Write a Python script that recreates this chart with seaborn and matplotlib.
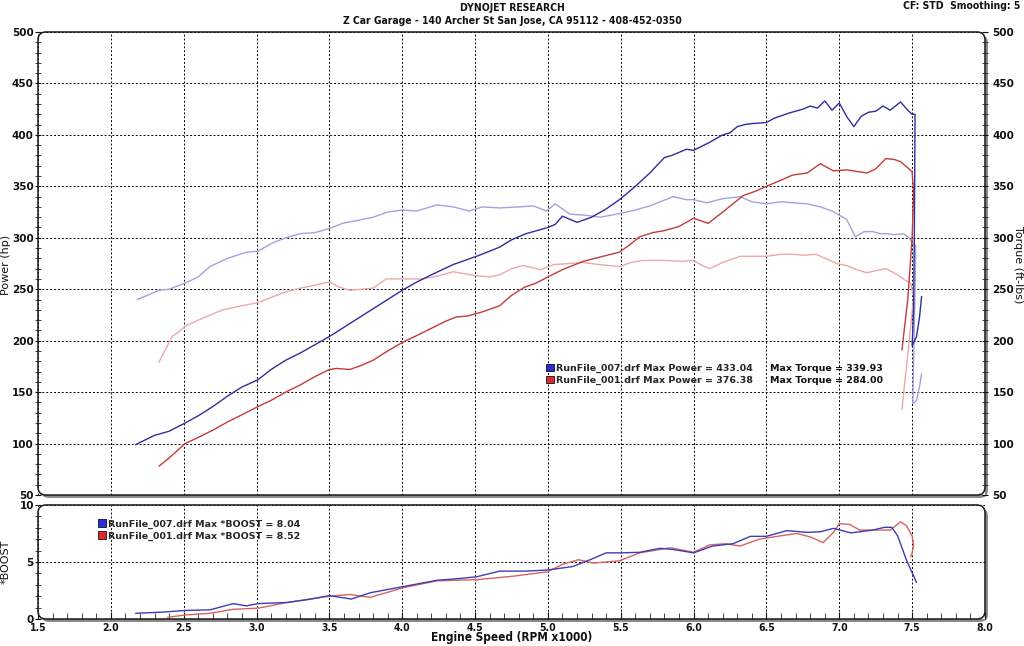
import matplotlib
matplotlib.use("Agg")
import matplotlib.pyplot as plt
import matplotlib.transforms as mtransforms
from matplotlib.patches import FancyBboxPatch, Patch
from matplotlib.ticker import MultipleLocator, FormatStrFormatter
import seaborn as sns

# ---------------- data ----------------
pow007_rpm = [2.17, 2.30, 2.40, 2.51, 2.60, 2.70, 2.80, 2.90, 3.01, 3.10, 3.20, 3.30, 3.40, 3.50,
              3.60, 3.70, 3.80, 3.90, 4.00, 4.10, 4.20, 4.26, 4.35, 4.45, 4.51, 4.60, 4.67, 4.75,
              4.85, 4.95, 5.00, 5.05, 5.10, 5.15, 5.20, 5.30, 5.40, 5.50, 5.60, 5.70, 5.80, 5.85,
              5.95, 6.00, 6.10, 6.20, 6.25, 6.30, 6.35, 6.40, 6.50, 6.55, 6.65, 6.75, 6.80, 6.85,
              6.90, 6.95, 7.00, 7.05, 7.10, 7.15, 7.20, 7.25, 7.30, 7.35, 7.42, 7.47, 7.50, 7.52,
              7.515, 7.51, 7.50, 7.53, 7.55, 7.565]
pow007 = [99, 108, 112, 120, 127, 136, 146, 155, 162, 172, 181, 188, 196, 204,
          213, 222, 231, 240, 249, 257, 264, 268, 274, 279, 282, 287, 291, 298,
          304, 308, 310, 313, 321, 318, 315, 320, 328, 338, 350, 363, 378, 380,
          386, 385, 392, 400, 402, 408, 410, 411, 412, 416, 421, 425, 428, 426,
          433, 424, 431, 418, 408, 418, 422, 423, 428, 424, 432, 424, 420, 420,
          300, 230, 195, 204, 222, 243]

tq007_rpm = [2.18, 2.25, 2.33, 2.40, 2.51, 2.60, 2.68, 2.80, 2.93, 3.01, 3.11, 3.20, 3.30, 3.40,
             3.50, 3.59, 3.70, 3.80, 3.90, 4.00, 4.10, 4.24, 4.35, 4.46, 4.55, 4.67, 4.80, 4.90,
             4.99, 5.05, 5.10, 5.15, 5.25, 5.36, 5.51, 5.60, 5.70, 5.86, 5.95, 6.00, 6.09, 6.20,
             6.32, 6.40, 6.50, 6.60, 6.68, 6.78, 6.87, 6.95, 7.00, 7.05, 7.11, 7.17, 7.23, 7.28,
             7.32, 7.38, 7.44, 7.48, 7.50, 7.525, 7.52, 7.51, 7.505, 7.53, 7.55, 7.565]
tq007 = [240, 244, 249, 250, 256, 262, 272, 280, 286, 287, 295, 300, 304, 305,
         309, 314, 317, 320, 325, 327, 326, 332, 330, 326, 330, 329, 330, 331,
         326, 333, 328, 323, 322, 320, 324, 327, 331, 340, 337, 337, 334, 338,
         340, 335, 333, 335, 334, 333, 330, 326, 322, 318, 301, 306, 306, 304,
         304, 303, 304, 300, 295, 292, 250, 180, 139, 142, 155, 168]

pow001_rpm = [2.33, 2.40, 2.51, 2.60, 2.70, 2.80, 2.90, 3.01, 3.10, 3.20, 3.30, 3.40, 3.50, 3.55,
              3.64, 3.72, 3.80, 3.90, 4.01, 4.10, 4.20, 4.30, 4.37, 4.45, 4.55, 4.67, 4.75, 4.84,
              4.92, 5.00, 5.10, 5.24, 5.35, 5.49, 5.56, 5.63, 5.72, 5.80, 5.90, 6.00, 6.10, 6.20,
              6.34, 6.42, 6.50, 6.60, 6.68, 6.78, 6.87, 6.96, 7.05, 7.19, 7.25, 7.32, 7.38, 7.42,
              7.47, 7.50, 7.51, 7.50, 7.47, 7.43]
pow001 = [78, 86, 100, 106, 113, 121, 128, 136, 142, 150, 157, 165, 172, 173,
          172, 176, 181, 190, 199, 205, 212, 219, 223, 224, 228, 234, 244, 252,
          256, 262, 269, 277, 281, 286, 293, 301, 305, 307, 311, 319, 314, 325,
          341, 345, 350, 356, 361, 363, 372, 365, 366, 363, 367, 377, 376, 374,
          368, 364, 345, 300, 240, 191]

tq001_rpm = [2.33, 2.37, 2.42, 2.47, 2.51, 2.60, 2.70, 2.77, 2.90, 3.01, 3.10, 3.21, 3.30, 3.40,
             3.50, 3.57, 3.64, 3.72, 3.80, 3.89, 4.00, 4.14, 4.25, 4.35, 4.43, 4.51, 4.60, 4.67,
             4.75, 4.83, 4.95, 5.04, 5.15, 5.24, 5.35, 5.49, 5.57, 5.65, 5.80, 5.92, 6.00, 6.06,
             6.11, 6.20, 6.32, 6.40, 6.50, 6.60, 6.68, 6.76, 6.84, 6.92, 6.98, 7.05, 7.12, 7.19,
             7.25, 7.32, 7.40, 7.45, 7.49, 7.51, 7.48, 7.45, 7.43]
tq001 = [179, 190, 204, 209, 214, 220, 226, 230, 234, 237, 242, 248, 251, 254,
         257, 252, 249, 250, 251, 260, 260, 260, 263, 267, 265, 263, 262, 264,
         270, 273, 269, 274, 275, 276, 274, 272, 276, 278, 278, 277, 278, 273,
         270, 276, 282, 282, 282, 284, 284, 283, 284, 279, 275, 273, 269, 266,
         268, 270, 264, 259, 256, 243, 200, 160, 133]

boost007_rpm = [2.17, 2.35, 2.51, 2.68, 2.84, 2.93, 3.01, 3.21, 3.35, 3.50, 3.65, 3.78, 4.01, 4.24,
                4.35, 4.51, 4.67, 4.85, 5.00, 5.17, 5.29, 5.40, 5.50, 5.63, 5.77, 5.86, 6.00, 6.13,
                6.27, 6.39, 6.50, 6.64, 6.78, 6.87, 6.96, 7.08, 7.23, 7.31, 7.36, 7.40, 7.46, 7.53]
boost007 = [0.5, 0.6, 0.75, 0.8, 1.35, 1.15, 1.35, 1.45, 1.7, 2.05, 1.75, 2.3, 2.85, 3.4,
            3.5, 3.7, 4.2, 4.2, 4.3, 4.6, 5.2, 5.8, 5.8, 5.85, 6.2, 6.1, 5.8, 6.4,
            6.6, 7.25, 7.25, 7.75, 7.6, 7.65, 7.95, 7.55, 7.8, 8.04, 8.04, 7.3, 5.2, 3.2]

boost001_rpm = [2.39, 2.51, 2.68, 2.84, 3.01, 3.21, 3.50, 3.64, 3.78, 4.01, 4.24, 4.51, 4.76, 5.00,
                5.10, 5.21, 5.31, 5.49, 5.63, 5.84, 6.00, 6.11, 6.22, 6.32, 6.45, 6.60, 6.71, 6.80,
                6.89, 6.96, 7.00, 7.07, 7.14, 7.35, 7.42, 7.46, 7.50, 7.51, 7.50, 7.49]
boost001 = [0.15, 0.35, 0.5, 0.85, 0.95, 1.45, 2.0, 2.15, 1.9, 2.75, 3.35, 3.45, 3.75, 4.15,
            4.8, 5.2, 4.9, 5.1, 5.8, 6.25, 5.85, 6.5, 6.6, 6.4, 7.0, 7.3, 7.5, 7.2,
            6.7, 7.6, 8.35, 8.3, 7.8, 7.8, 8.52, 8.2, 7.3, 6.5, 5.8, 5.45]

legend_top = ["RunFile_007.drf Max Power = 433.04", "RunFile_001.drf Max Power = 376.38"]
legend_torque = ["Max Torque = 339.93", "Max Torque = 284.00"]
legend_boost = ["RunFile_007.drf Max *BOOST = 8.04", "RunFile_001.drf Max *BOOST = 8.52"]

# ---------------- style ----------------
sns.set_style("white")
plt.rcParams['font.family'] = ['DejaVu Sans']
NARROW = dict(family='DejaVu Sans', stretch='condensed', weight='bold')

C_POW7 = '#2e2e9e'
C_TQ7 = '#a3a3dc'
C_POW1 = '#c43b3b'
C_TQ1 = '#eaa9a9'
C_B7 = '#3d3db5'
C_B1 = '#d86262'
INK = '#111111'

fig = plt.figure(figsize=(10.24, 6.46), dpi=100)
ax = fig.add_axes([0.0371, 0.2337, 0.9248, 0.7168])
axb = fig.add_axes([0.0371, 0.0418, 0.9248, 0.1765])
ax2 = ax.twinx()


def frame(a, wpx, hpx):
    for s in a.spines.values():
        s.set_visible(False)
    off = mtransforms.ScaledTranslation(3 / 100, -3 / 100, fig.dpi_scale_trans)
    rs = 8 / wpx
    asp = wpx / hpx
    shadow = FancyBboxPatch((0, 0), 1, 1, boxstyle=f"round,pad=0,rounding_size={rs}",
                            mutation_aspect=asp, transform=a.transAxes + off,
                            facecolor='#8a8a8a', edgecolor='none', zorder=-5)
    fig.add_artist(shadow)
    border = FancyBboxPatch((0, 0), 1, 1, boxstyle=f"round,pad=0,rounding_size={rs}",
                            mutation_aspect=asp, transform=a.transAxes,
                            facecolor='none', edgecolor='#1a1a1a', lw=1.1, zorder=10)
    a.add_patch(border)
    border.set_clip_on(False)


frame(ax, 947, 463)
frame(axb, 947, 114)
for s in ax2.spines.values():
    s.set_visible(False)

# ---------------- top panel ----------------
lw = 1.0
sns.lineplot(x=tq007_rpm, y=tq007, sort=False, estimator=None, color=C_TQ7, lw=lw, ax=ax)
sns.lineplot(x=tq001_rpm, y=tq001, sort=False, estimator=None, color=C_TQ1, lw=lw, ax=ax)
sns.lineplot(x=pow001_rpm, y=pow001, sort=False, estimator=None, color=C_POW1, lw=lw, ax=ax)
sns.lineplot(x=pow007_rpm, y=pow007, sort=False, estimator=None, color=C_POW7, lw=lw, ax=ax)

for a in (ax, ax2):
    a.set_xlim(1.5, 8.0)
    a.set_ylim(50, 500)
    a.yaxis.set_major_locator(MultipleLocator(50))
    a.yaxis.set_minor_locator(MultipleLocator(10))
ax.xaxis.set_major_locator(MultipleLocator(0.5))
ax.grid(True, which='major', color='black', linestyle=(0, (2, 2)), linewidth=0.7)
ax.tick_params(axis='x', which='both', bottom=False, labelbottom=False)
ax.tick_params(axis='y', which='major', left=True, direction='inout', length=5, width=0.8,
               labelsize=7.5, pad=0.5, colors=INK)
ax.tick_params(axis='y', which='minor', left=True, direction='inout', length=4, width=0.6)
for t in ax.get_yticklabels():
    t.set_fontweight('bold')
ax2.tick_params(axis='y', which='major', right=True, direction='inout', length=5, width=0.8,
                labelsize=7.5, pad=3, colors=INK)
ax2.tick_params(axis='y', which='minor', right=True, direction='inout', length=4, width=0.6)
for t in ax2.get_yticklabels():
    t.set_fontweight('bold')
ax2.grid(False)
ax.set_xlabel('')
ax.set_ylabel('')
ax2.set_ylabel('')

fig.text(6 / 1024, 1 - 265 / 646, 'Power (hp)', rotation=90, ha='center', va='center',
         fontsize=8, color=INK)
fig.text(1018 / 1024, 1 - 265 / 646, 'Torque (ft-lbs)', rotation=270, ha='center', va='center',
         fontsize=8, color=INK)
fig.text(6 / 1024, 1 - 562 / 646, '*BOOST', rotation=90, ha='center', va='center',
         fontsize=8, color=INK)

handles = [Patch(facecolor='#2a2ae0', edgecolor=INK, lw=0.6),
           Patch(facecolor='#e02a2a', edgecolor=INK, lw=0.6)]
ax.legend(handles=handles, labels=legend_top, loc='center left', bbox_to_anchor=(0.536, 0.261),
          frameon=False, handlelength=0.85, handleheight=0.85, handletextpad=0.25,
          labelspacing=0.3, borderpad=0, borderaxespad=0,
          prop=dict(weight='bold', size=6.8))
ax.text(0.773, 0.2743, legend_torque[0], transform=ax.transAxes, va='center', ha='left',
        fontsize=6.8, fontweight='bold', color=INK)
ax.text(0.773, 0.2484, legend_torque[1], transform=ax.transAxes, va='center', ha='left',
        fontsize=6.8, fontweight='bold', color=INK)

# ---------------- bottom panel ----------------
sns.lineplot(x=boost001_rpm, y=boost001, sort=False, estimator=None, color=C_B1, lw=lw, ax=axb)
sns.lineplot(x=boost007_rpm, y=boost007, sort=False, estimator=None, color=C_B7, lw=lw, ax=axb)
axb.set_xlim(1.5, 8.0)
axb.set_ylim(0, 10)
axb.xaxis.set_major_locator(MultipleLocator(0.5))
axb.xaxis.set_minor_locator(MultipleLocator(0.1))
axb.yaxis.set_major_locator(MultipleLocator(5))
axb.yaxis.set_minor_locator(MultipleLocator(1))
axb.grid(True, which='major', color='black', linestyle=(0, (2, 2)), linewidth=0.7)
axb.tick_params(axis='x', which='major', bottom=True, direction='in', length=5, width=0.8,
                labelsize=7.5, pad=3, colors=INK)
axb.tick_params(axis='x', which='minor', bottom=True, direction='in', length=4, width=0.6)
axb.tick_params(axis='y', which='major', left=True, direction='inout', length=5, width=0.8,
                labelsize=7.5, pad=0.5, colors=INK)
axb.tick_params(axis='y', which='minor', left=True, direction='inout', length=4, width=0.6)
axb.xaxis.set_major_formatter(FormatStrFormatter('%.1f'))
for t in axb.get_xticklabels():
    t.set_fontstretch('condensed')
    t.set_fontweight('bold')
for t in axb.get_yticklabels():
    t.set_fontweight('bold')
axb.set_ylabel('')
axb.set_xlabel('')
fig.text(0.5, 1 - 638 / 646, 'Engine Speed (RPM x1000)', ha='center', va='center',
         fontsize=8.5, color=INK, **NARROW)

axb.legend(handles=handles, labels=legend_boost, loc='center left', bbox_to_anchor=(0.063, 0.78),
           frameon=False, handlelength=0.85, handleheight=0.85, handletextpad=0.25,
           labelspacing=0.3, borderpad=0, borderaxespad=0,
           prop=dict(weight='bold', size=6.8))

# ---------------- titles ----------------
fig.text(0.5, 1 - 8 / 646, 'DYNOJET RESEARCH', ha='center', va='center', fontsize=7.5,
         color=INK, **NARROW)
fig.text(0.5, 1 - 21 / 646, 'Z Car Garage - 140 Archer St San Jose, CA 95112 - 408-452-0350',
         ha='center', va='center', fontsize=7.5, color=INK, **NARROW)
fig.text(1020 / 1024, 1 - 6 / 646, 'CF: STD  Smoothing: 5', ha='right', va='center',
         fontsize=7.5, color=INK, **NARROW)

fig.savefig('out.png', dpi=100, facecolor='white')
